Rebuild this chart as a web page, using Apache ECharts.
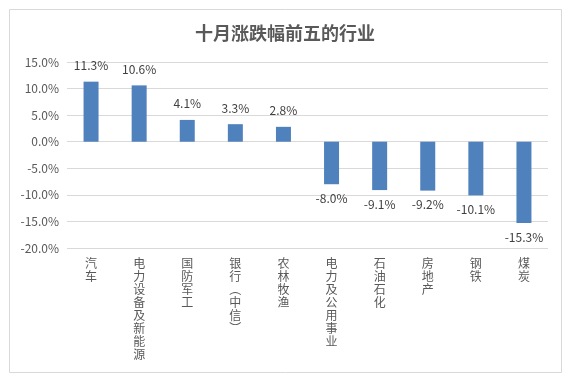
<!DOCTYPE html>
<html><head><meta charset="utf-8">
<script src="https://cdn.jsdelivr.net/npm/echarts@6/dist/echarts.min.js"></script>
<style>html,body{margin:0;padding:0;background:#fff}#c{width:570px;height:379px}</style>
</head><body><div id="c"></div>
<script>
const categories = ['汽车','电力设备及新能源','国防军工','银行(中信)','农林牧渔','电力及公用事业','石油石化','房地产','钢铁','煤炭'];
const values = [11.3, 10.6, 4.1, 3.3, 2.8, -8.0, -9.1, -9.2, -10.1, -15.3];
const yTicks = [-20, -15, -10, -5, 0, 5, 10, 15];
const titleText = '十月涨跌幅前五的行业';

const vert = s => s.replace('(', '︵').replace(')', '︶').split('').join('\n');
const font = '"Noto Sans CJK SC", "Microsoft YaHei", sans-serif';
const chart = echarts.init(document.getElementById('c'), null, {renderer: 'canvas'});
chart.setOption({
  backgroundColor: '#fff',
  animation: false,
  title: {text: titleText, left: 'center', top: 19,
    textStyle: {fontFamily: font, fontSize: 18, fontWeight: 'bold', color: '#595959'}},
  graphic: [{type: 'rect', shape: {x: 9.5, y: 9.5, width: 552, height: 363},
    style: {fill: 'none', stroke: '#D9D9D9', lineWidth: 1}, silent: true}],
  grid: {left: 67, right: 22, top: 62, bottom: 131, containLabel: false},
  xAxis: {type: 'category', data: categories,
    axisLine: {onZero: false, show: false}, axisTick: {show: false},
    axisLabel: {formatter: v => vert(v), fontFamily: font, fontSize: 12, lineHeight: 13,
      color: '#595959', margin: 9, verticalAlign: 'top', interval: 0}},
  yAxis: {type: 'value', min: yTicks[0], max: yTicks[yTicks.length-1], interval: 5,
    axisLine: {show: false}, axisTick: {show: false},
    splitLine: {lineStyle: {color: '#D9D9D9', width: 1}},
    axisLabel: {formatter: v => v.toFixed(1) + '%', fontFamily: font, fontSize: 12, color: '#595959', margin: 8}},
  series: [{type: 'bar', data: values.map(v => ({value: v,
      label: {position: v >= 0 ? 'top' : 'bottom', distance: v >= 0 ? 10 : 8}})),
    barWidth: 15, itemStyle: {color: '#4F81BD'},
    label: {show: true, formatter: p => p.value.toFixed(1) + '%', fontFamily: font, fontSize: 12,
      color: '#404040'}}]
});
</script></body></html>
